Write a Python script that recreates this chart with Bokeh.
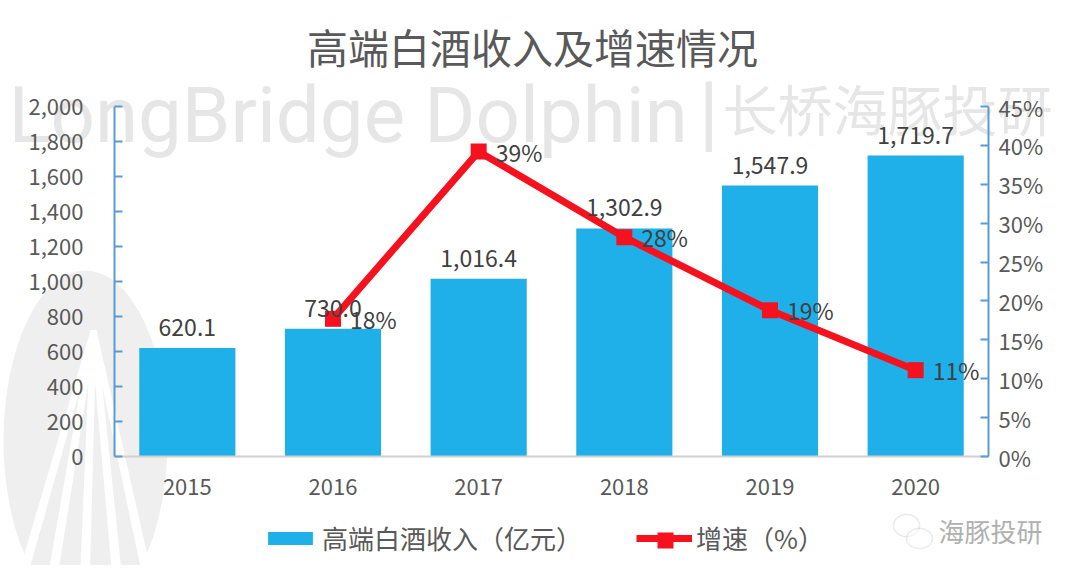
import numpy as np
from bokeh.plotting import figure
from bokeh.core.properties import value
from bokeh.models import (ColumnDataSource, Range1d, LinearAxis, LabelSet, Label,
                          Legend, LegendItem, FixedTicker, PrintfTickFormatter,
                          NumeralTickFormatter, PolyAnnotation)
from bokeh.embed import file_html
from bokeh.resources import INLINE

# data
years = ["2015", "2016", "2017", "2018", "2019", "2020"]
revenue = [620.1, 730.0, 1016.4, 1302.9, 1547.9, 1719.7]      # 高端白酒收入（亿元）
growth_years = ["2016", "2017", "2018", "2019", "2020"]
growth = [17.7, 39.2, 28.2, 18.8, 11.1]                         # 增速（%）
left_ticks = list(range(0, 2001, 200))
right_ticks = list(range(0, 46, 5))

FONT = "Noto Sans CJK SC"
BLUE = "#1FAFE9"
RED = "#F5121E"
TXT = "#595959"
AXBLUE = "#5B9BD5"
W, H = 1064, 565

# plot area in pixels: x 114..988, y 106 (top of scale) .. 456 (zero line)
X0, X1, YT, YB = 114, 988, 106, 456
ppu = (X1 - X0) / len(years)
x_range = Range1d(-0.5 - X0 / ppu, len(years) - 0.5 + (W - X1) / ppu)
ymax, pmax = left_ticks[-1], right_ticks[-1]
y_range = Range1d(-(H - YB) * ymax / (YB - YT), ymax + YT * ymax / (YB - YT))
pct_range = Range1d(-(H - YB) * pmax / (YB - YT), pmax + YT * pmax / (YB - YT))

xi = list(range(len(years)))
gxi = [years.index(y) for y in growth_years]
bar_src = ColumnDataSource(dict(x=xi, revenue=revenue,
                                lbl=[f"{v:,.1f}" for v in revenue]))
gr_src = ColumnDataSource(dict(x=gxi, growth=growth,
                               lbl=[f"{v:.0f}%" for v in growth]))

p = figure(x_range=x_range, y_range=y_range, width=W, height=H,
           output_backend="svg", toolbar_location=None,
           x_axis_location=None, y_axis_location=None,
           min_border=0, min_border_left=0, min_border_right=0,
           min_border_top=0, min_border_bottom=0)
p.extra_y_ranges = {"pct": pct_range}
p.xgrid.visible = False
p.ygrid.visible = False
p.outline_line_color = None


def ellipse(cx, cy, rx, ry, **kw):
    # decorative outline in picture pixels
    t = np.linspace(0, 2 * np.pi, 90)
    return PolyAnnotation(xs=list(cx + rx * np.cos(t)), ys=list(H - (cy + ry * np.sin(t))),
                          xs_units="screen", ys_units="screen", **kw)


# logo and watermark, behind everything
p.add_layout(ellipse(85, 440, 82, 170, fill_color="#efefef", fill_alpha=1,
                     line_color=None, level="underlay"))
for bx in [18, 50, 84, 118, 150]:
    p.add_layout(PolyAnnotation(xs=[90, 96, bx + 5, bx - 5], ys=[H - 330, H - 330, H - 590, H - 590],
                                xs_units="screen", ys_units="screen",
                                fill_color="white", fill_alpha=1, line_color=None, level="underlay"))

wm = "#e6e6e6"
p.add_layout(Label(x=8, y=H - 115, x_units="screen", y_units="screen", text="LongBridge Dolphin",
                   text_font="Roboto", text_font_size="78px",
                   text_color=wm, text_baseline="alphabetic", level="underlay"))
p.add_layout(Label(x=698, y=H - 112, x_units="screen", y_units="screen", text="|",
                   text_font="Roboto", text_font_size="84px",
                   text_color=wm, text_baseline="alphabetic", level="underlay"))
p.add_layout(Label(x=722, y=H - 106, x_units="screen", y_units="screen", text="长桥海豚投研",
                   text_font=FONT, text_font_size="55px",
                   text_color=wm, text_baseline="alphabetic", level="underlay"))

bars = p.vbar(x="x", top="revenue", width=0.66, source=bar_src,
              fill_color=BLUE, line_color=None)
line = p.line(x="x", y="growth", source=gr_src, y_range_name="pct",
              line_color=RED, line_width=7)
pts = p.scatter(x="x", y="growth", source=gr_src, y_range_name="pct",
                marker="square", size=16, fill_color=RED, line_color=None)

p.add_layout(LabelSet(x="x", y="revenue", text="lbl", source=bar_src, y_offset=12,
                      text_align="center", text_baseline="bottom",
                      text_font=value(FONT), text_font_size=value("23px"), text_color="#404040"))
p.add_layout(LabelSet(x="x", y="growth", text="lbl", source=gr_src, y_range_name="pct",
                      x_offset=17, text_align="left", text_baseline="middle",
                      text_font=value(FONT), text_font_size=value("23px"), text_color="#404040"))


def style_axis(ax, color):
    ax.axis_line_color = color
    ax.axis_line_width = 2
    ax.major_tick_line_color = color
    ax.major_tick_line_width = 2
    ax.major_tick_in = 8
    ax.major_tick_out = 0
    ax.minor_tick_line_color = None
    ax.major_label_text_font = FONT
    ax.major_label_text_font_size = "22px"
    ax.major_label_text_color = TXT


ya = LinearAxis(ticker=FixedTicker(ticks=left_ticks), formatter=NumeralTickFormatter(format="0,0"),
                fixed_location=-0.5, bounds=(0, ymax))
style_axis(ya, AXBLUE)
ya.major_label_standoff = 31
p.add_layout(ya, "left")

ra = LinearAxis(y_range_name="pct", ticker=FixedTicker(ticks=right_ticks),
                formatter=PrintfTickFormatter(format="%d%%"),
                fixed_location=len(years) - 0.5, bounds=(0, pmax))
style_axis(ra, AXBLUE)
ra.major_label_standoff = 10
p.add_layout(ra, "right")

xa = LinearAxis(ticker=FixedTicker(ticks=xi), fixed_location=0,
                bounds=(-0.5, len(years) - 0.5),
                major_label_overrides={i: y for i, y in zip(xi, years)})
style_axis(xa, "#d0d0d0")
xa.major_tick_line_color = None
xa.major_label_standoff = 22
p.add_layout(xa, "below")

# title
p.add_layout(Label(x=532, y=H - 45, x_units="screen", y_units="screen", text="高端白酒收入及增速情况",
                   text_font=FONT, text_font_size="41px", text_color=TXT,
                   text_align="center", text_baseline="middle"))

# legend
legend = Legend(items=[LegendItem(label="高端白酒收入（亿元）", renderers=[bars]),
                       LegendItem(label="增速（%）", renderers=[line, pts])],
                orientation="horizontal", location=(262, H - 556),
                padding=0, margin=0, spacing=54, label_standoff=4,
                glyph_width=56, glyph_height=16,
                label_text_font=FONT, label_text_font_size="26px", label_text_color=TXT,
                border_line_color=None, background_fill_alpha=0)
p.add_layout(legend, "center")
# the legend marker is drawn too small by default; put the square on its line
p.add_layout(PolyAnnotation(xs=[657, 673, 673, 657], ys=[H - 532, H - 532, H - 548, H - 548],
                            xs_units="screen", ys_units="screen", fill_color=RED, fill_alpha=1,
                            line_color=None, level="overlay"))

# account mark, bottom right
p.add_layout(ellipse(906, 525, 13, 11, fill_color="white", line_color="#b8b8b8", line_width=1.5))
p.add_layout(ellipse(919, 538, 13, 10, fill_color="white", line_color="#b8b8b8", line_width=1.5))
p.add_layout(Label(x=938, y=H - 530, x_units="screen", y_units="screen", text="海豚投研",
                   text_font=FONT, text_font_size="26px", text_color="#b0b0b0",
                   text_baseline="middle"))

open("out.html", "w").write(file_html(p, INLINE))
